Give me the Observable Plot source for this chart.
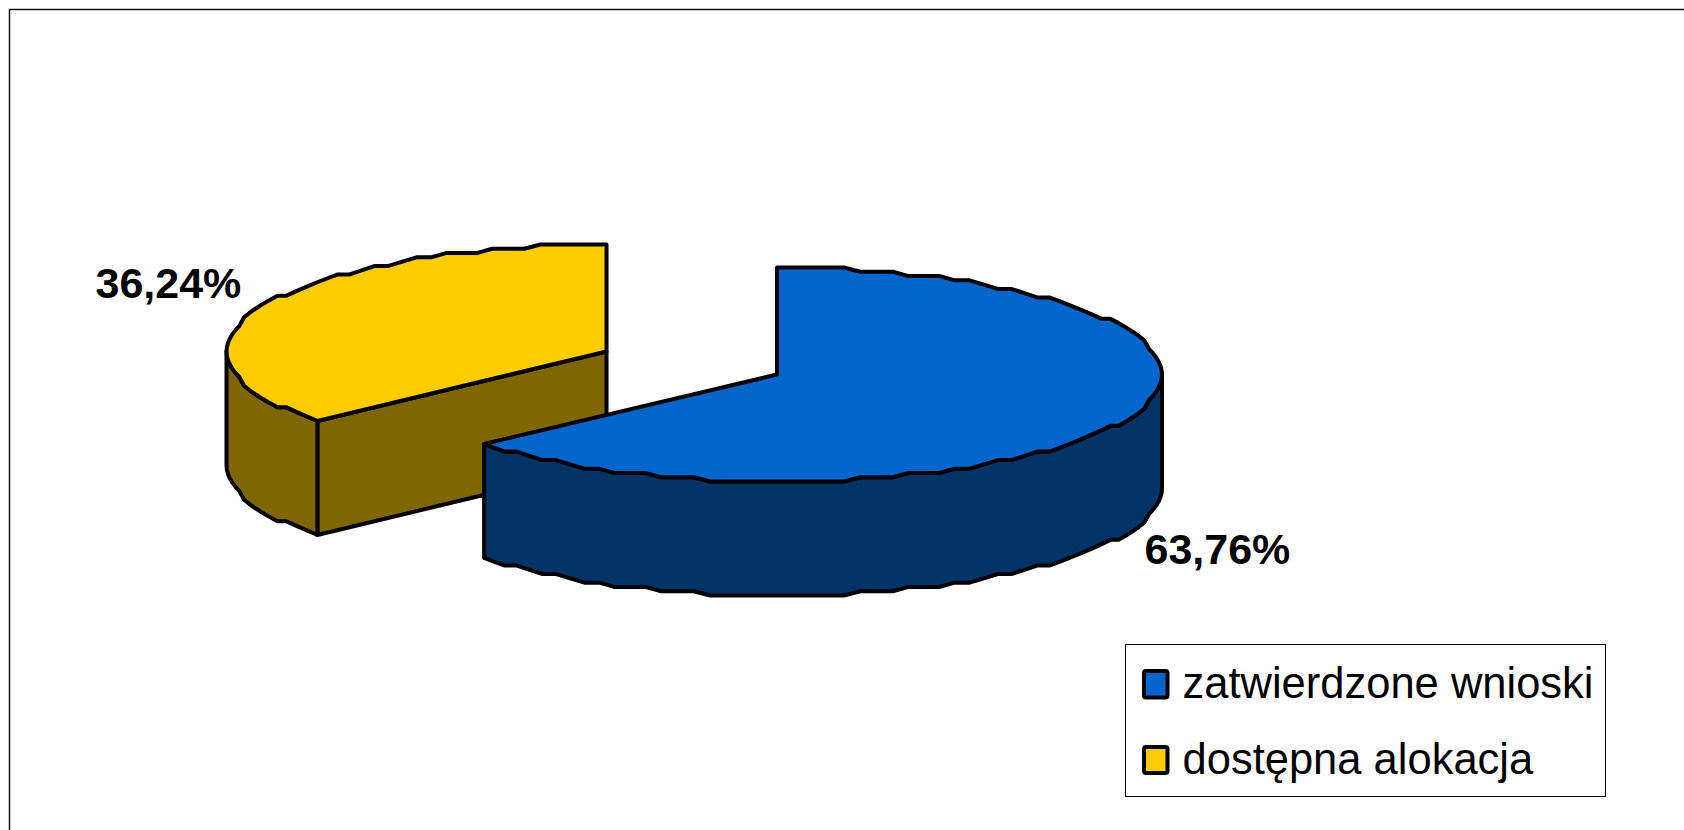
<!DOCTYPE html>
<html>
<head>
<meta charset="utf-8">
<script src="https://cdn.jsdelivr.net/npm/d3@7"></script>
<script src="https://cdn.jsdelivr.net/npm/@observablehq/plot@0.6"></script>
<style>html,body{margin:0;padding:0;background:#fff;overflow:hidden}svg{display:block}</style>
</head>
<body>
<div id="chart"></div>
<script>
// Data
const categories = ["zatwierdzone wnioski", "dostępna alokacja"];
const shares = [63.76, 36.24];
const shareLabels = ["63,76%", "36,24%"];
const topColors = ["#0066CC", "#FFCC00"];
const sideColors = ["#003366", "#806600"];

// Layout (pixels)
const W = 1684, H = 830;
const RX = 385, RY = 107, DEPTH = 114;
const centers = [[776.5, 374], [606, 351]];
const widthFactor = [1, 0.987];
const ux = p => p / RX, uy = p => p / RY;
const SNAP_Y = 0.04, STEP = 2.5;
const snap = (v, s) => Math.round(v / s) * s;

// Points of the stepped elliptical rim between two clockwise angles (deg from 12 o'clock)
function rim(i, a0, a1, drop = 0) {
  const [cx, cy] = centers[i];
  const angles = [a0];
  for (let k = Math.ceil(a0 / STEP + 1e-6); k * STEP < a1 - 1e-6; k++) angles.push(k * STEP);
  if (a1 > a0) angles.push(a1);
  return angles.map((deg, k) => {
    const a = deg * Math.PI / 180;
    const edge = (k === 0 || k === angles.length - 1) && deg !== 90 && deg !== 270;
    const dx = Math.sin(a) * widthFactor[i], dy = -Math.cos(a);
    return {
      x: ux(cx) + dx,
      y: uy(cy + drop) + (edge ? dy : snap(dy, SNAP_Y))
    };
  });
}

const polys = [];
function poly(pts, fill, id) { pts.forEach(p => polys.push({...p, id, fill})); }

const startAngle = [0, shares[0] * 3.6];
const endAngle = [shares[0] * 3.6, 360];

// Yellow slice drawn first, blue slice in front
[1, 0].forEach(i => {
  const [cx, cy] = centers[i];
  const a0 = startAngle[i], a1 = endAngle[i];
  const apex = {x: ux(cx), y: uy(cy)};
  const apexLow = {x: ux(cx), y: uy(cy + DEPTH)};
  if (i === 1) {
    const pA = rim(i, a0, a0)[0];
    const pB = rim(i, a0, a0, DEPTH)[0];
    poly([apex, pA, pB, apexLow, apex], sideColors[i], "cut" + i);
    const wallTop = rim(i, a0, 270);
    const wallLow = rim(i, a0, 270, DEPTH).reverse();
    poly([...wallTop, ...wallLow, wallTop[0]], sideColors[i], "wall" + i);
  } else {
    const wallTop = rim(i, 90, a1);
    const wallLow = rim(i, 90, a1, DEPTH).reverse();
    poly([...wallTop, ...wallLow, wallTop[0]], sideColors[i], "wall" + i);
  }
  poly([apex, ...rim(i, a0, a1), apex], topColors[i], "top" + i);
});

const labelRows = [
  {label: shareLabels[0], x: ux(1144), y: uy(563)},
  {label: shareLabels[1], x: ux(95), y: uy(297)}
];
const legendBox = {x1: ux(1125.5), x2: ux(1605.5), y1: uy(644.5), y2: uy(796.5)};
const legendRows = categories.map((c, i) => ({
  name: c, fill: topColors[i],
  x1: ux(1144), x2: ux(1167.5),
  y1: uy(i ? 747 : 671), y2: uy(i ? 773 : 697.5),
  tx: ux(1182), ty: uy(i ? 773 : 697)
}));

const chart = Plot.plot({
  width: W, height: H,
  marginTop: 0, marginRight: 0, marginBottom: 0, marginLeft: 0,
  x: {domain: [0, W / RX], range: [0, W], axis: null},
  y: {domain: [0, H / RY], range: [0, H], axis: null},
  marks: [
    Plot.ruleX([ux(9)], {y1: uy(9), y2: uy(H), stroke: "#111", strokeWidth: 1.5}),
    Plot.ruleY([uy(9)], {x1: ux(9), x2: ux(W), stroke: "#111", strokeWidth: 1.5}),
    Plot.line(polys, {
      x: "x", y: "y", z: "id", fill: "fill", stroke: "#000",
      strokeWidth: 4, strokeLinejoin: "round", curve: "linear", sort: null
    }),
    Plot.text(labelRows, {
      x: "x", y: "y", text: "label", textAnchor: "start", lineAnchor: "bottom",
      fontFamily: "Liberation Sans", fontWeight: "bold", fontSize: 43, fill: "#000"
    }),
    Plot.rect([legendBox], {x1: "x1", x2: "x2", y1: "y1", y2: "y2", fill: "#fff", stroke: "#000", strokeWidth: 1}),
    Plot.rect(legendRows, {x1: "x1", x2: "x2", y1: "y1", y2: "y2", fill: "fill", stroke: "#000", strokeWidth: 4, rx: 2}),
    Plot.text(legendRows, {
      x: "tx", y: "ty", text: "name", textAnchor: "start", lineAnchor: "bottom",
      fontFamily: "Liberation Sans", fontSize: 43.5, fill: "#000"
    })
  ]
});
document.getElementById("chart").appendChild(chart);
</script>
</body>
</html>
